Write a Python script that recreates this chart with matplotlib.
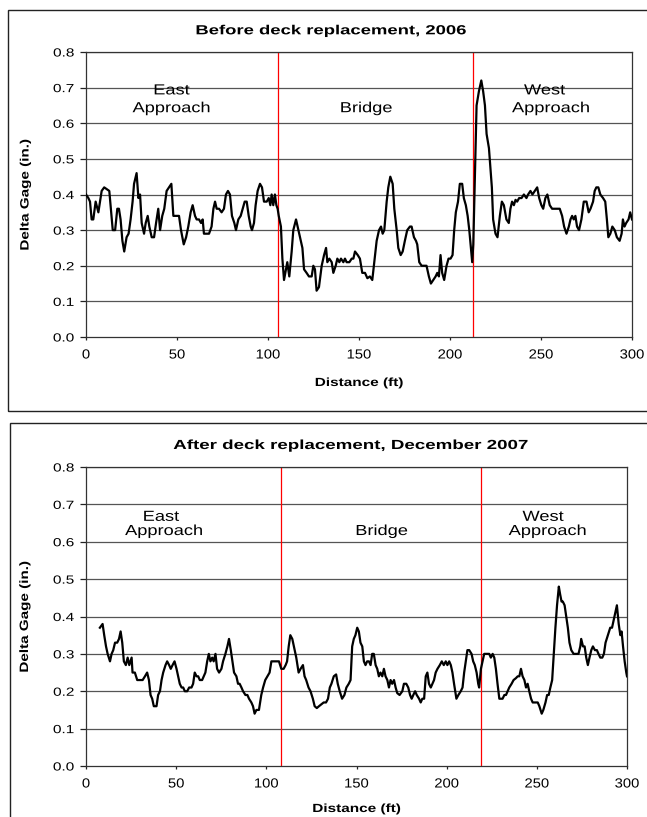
import matplotlib
matplotlib.use("Agg")
import matplotlib.pyplot as plt
from matplotlib.patches import Rectangle
from matplotlib.patheffects import AbstractPathEffect
from matplotlib.transforms import Affine2D

plt.rcParams['font.family'] = ['Liberation Sans', 'DejaVu Sans']

# ---------------- data: before (2006) ----------------
before_x = [0, 1.3, 2.2, 3.1, 4, 5.3, 6.8, 8.6, 10, 11.4, 12.8, 14.7, 16, 17.2, 18.1, 19, 20, 21,
            22.3, 23.4, 24.5, 25.6, 26.4, 27.8, 28.8, 29.7, 30.6, 31.9, 32.8, 33.9, 34.8, 36.1,
            37.4, 38.5, 39.7, 40.7, 41.9, 43, 44.3, 45.6, 46.9, 48, 49.8, 51.1, 52.2, 53.7, 55,
            56.2, 57.5, 58.6, 59.9, 60.8, 62.1, 63.2, 64.1, 64.8, 66.3, 67.6, 69, 70, 70.9, 71.8,
            73.1, 74.5, 75.8, 76.9, 78, 79.1, 80.2, 81.5, 82.4, 83.7, 85, 86.1, 87.2, 88.3, 89.4,
            90.5, 91.2, 92.3, 93.2, 94.3, 95.6, 96.7, 97.8, 99.3, 100.4, 101.3, 102, 102.9, 103.8,
            104.6, 105.3, 105.9, 107.1, 107.9, 108.8, 109.9, 110.6, 111.7, 113, 113.9, 115.4,
            116.7, 117.6, 118.9, 119.8, 121.2, 122.5, 124, 124.9, 125.8, 126.7, 128,
            129.5, 130.8, 131.9, 132.6, 133.7, 135, 135.9, 137.2, 138.1, 139.2, 140.1, 141.4,
            142.3, 143.2, 144.7, 146, 146.9, 147.8, 149.3, 150.5, 151.8, 153.3, 154.6, 156,
            157.3, 158.4, 159.7, 161, 162.1, 163, 163.9, 165.2, 166.1, 167.2, 168.5, 169.4,
            170.7, 171.6, 172.9, 174, 175.2, 176.5, 178, 178.9, 180.2, 181.3, 182, 183.1, 184.4,
            185.7, 187.1, 188.4, 189.5, 190.8, 192.1, 193, 193.9, 194.8, 195.7, 196.8, 198.1,
            199.2, 200.3, 201.4, 202.3, 203.2, 204.4, 205.4, 206.7, 207.6, 208.7, 209.7, 210.6,
            211.5, 212.2, 212.8, 213.7, 214.6, 215.9, 217.2, 218.2, 219.2, 220.1, 221.4, 222.3,
            223, 223.7, 225, 226.1, 227.4, 228.5, 229.6, 231, 232.3, 233.2, 234.1, 235.1, 236,
            236.9, 238, 239.3, 240.6, 242, 242.9, 244.2, 245.3, 246.6, 247.9, 249, 250.2, 251.2,
            252.4, 253.5, 254.8, 256.1, 257.6, 258.9, 260.3, 261.6, 262.7, 264, 265.3, 266.2,
            267.1, 268, 268.9, 269.8, 270.9, 272.2, 273.5, 275, 276.2, 277.2, 278.6, 279.5,
            280.4, 281.5, 282.6, 284.1, 285.3, 286.2, 287, 288.1, 289.2, 290.5, 291.7, 293.2,
            294.3, 295, 295.9, 296.8, 298.1, 299, 300]
before_y = [0.40, 0.39, 0.38, 0.33, 0.33, 0.38, 0.35, 0.41, 0.42, 0.415, 0.41, 0.30, 0.30, 0.36,
            0.36, 0.33, 0.27, 0.24, 0.28, 0.29, 0.33, 0.38, 0.43, 0.46, 0.39, 0.40, 0.32, 0.29,
            0.32, 0.34, 0.31, 0.28, 0.28, 0.32, 0.36, 0.30, 0.34, 0.36, 0.41, 0.42, 0.43, 0.34,
            0.34, 0.34, 0.30, 0.26, 0.28, 0.31, 0.35, 0.37, 0.34, 0.33, 0.33, 0.32, 0.33, 0.29,
            0.29, 0.29, 0.31, 0.36, 0.38, 0.36, 0.36, 0.35, 0.36, 0.40, 0.41, 0.40, 0.34, 0.32,
            0.30, 0.33, 0.34, 0.36, 0.38, 0.38, 0.34, 0.31, 0.30, 0.32, 0.37, 0.41, 0.43, 0.42,
            0.38, 0.38, 0.39, 0.37, 0.40, 0.37, 0.40, 0.37, 0.36, 0.34, 0.31, 0.22, 0.16, 0.19,
            0.21, 0.17, 0.24, 0.30, 0.33, 0.30, 0.28, 0.25, 0.19, 0.18, 0.17, 0.17, 0.20, 0.19,
            0.13, 0.14,
            0.20, 0.23, 0.25, 0.21, 0.22, 0.21, 0.18, 0.20, 0.22, 0.21, 0.22, 0.21, 0.22, 0.21,
            0.21, 0.22, 0.22, 0.24, 0.23, 0.22, 0.18, 0.18, 0.165, 0.17, 0.16, 0.21, 0.27, 0.30,
            0.31, 0.29, 0.30, 0.38, 0.42, 0.45, 0.43, 0.36, 0.30, 0.25, 0.23, 0.24, 0.27, 0.30,
            0.31, 0.31, 0.28, 0.27, 0.26, 0.21, 0.20, 0.20, 0.20, 0.17, 0.15, 0.16, 0.17, 0.18,
            0.17, 0.23, 0.18, 0.16, 0.20, 0.22, 0.22, 0.23, 0.30, 0.35, 0.38, 0.43, 0.43, 0.39,
            0.37, 0.34, 0.30, 0.25, 0.21, 0.26, 0.45, 0.65, 0.69, 0.72, 0.69, 0.65, 0.57, 0.53,
            0.47, 0.42, 0.33, 0.29, 0.28, 0.34, 0.38, 0.37, 0.33, 0.32, 0.36, 0.38, 0.37, 0.385,
            0.38, 0.39, 0.39, 0.40, 0.39, 0.40, 0.41, 0.40, 0.41, 0.42, 0.39, 0.37, 0.36, 0.39,
            0.40, 0.37, 0.36, 0.36, 0.36, 0.36, 0.34, 0.31, 0.29, 0.31, 0.33, 0.34, 0.33, 0.34,
            0.31, 0.30, 0.33, 0.38, 0.38, 0.35, 0.36, 0.38, 0.41, 0.42, 0.42, 0.40, 0.39, 0.38,
            0.33, 0.28, 0.29, 0.31, 0.30, 0.28, 0.27, 0.29, 0.33, 0.31, 0.32, 0.33, 0.35, 0.33]

# ---------------- data: after (Dec 2007) ----------------
after_x = [7.7, 9.2, 10.1, 11.1, 12, 13.3, 14.2, 15.1, 16.1, 17.3, 18.3, 19.2, 20.1, 21, 22.1,
           23.1, 24, 25.3, 25.8, 27.1, 28.4, 29.9, 31.4, 32.7, 33.9, 34.9, 35.8, 36.7, 37.6,
           39.1, 40, 41, 41.9, 42.8, 44.1, 45, 46.1, 47, 48, 49.1, 50.2, 51.1, 52, 53, 53.9,
           54.8, 56.1, 57.2, 58.5, 59.4, 60.3, 61.3, 62.2, 63.1, 64.4, 65.3, 66.2, 67.2, 68.1,
           69, 70, 70.8, 71.8, 72.7, 73.8, 75.1, 76, 77.3, 78.4, 79.3, 80.3, 81.2, 82.1, 83.4,
           84.3, 85.2, 86.2, 87.1, 88.4, 89.5, 90.4, 91.7, 92.6, 93.5, 94.5, 95.9, 97.2, 98.2,
           99.4, 100.6, 101.8, 102.8, 104.1, 105.5, 107, 108.3, 109.6, 110.7, 111.5, 112.4,
           113.3, 114.4, 115.3, 116.6, 117.9, 119, 120.3, 121.2, 122.1, 123.4, 124.5, 125.8,
           126.8, 128,
           129.2, 130.5, 131.8, 133.1, 134.2, 135.2, 136.1, 137.4, 138.7, 139.6, 140.7, 142,
           143.3, 144.4, 145.7, 146.7, 147.6, 148.5, 149.4, 150.4, 151.3, 152.2, 153.2, 154.1,
           155, 155.9, 156.9, 157.8, 158.7, 159.6, 160.6, 161.5, 162.4, 163.3, 164.3, 165.2,
           166.1, 167.1, 168, 168.9, 169.8, 170.8, 171.7, 172.6, 173.9, 175.4, 176.3, 177.6,
           178.7, 179.7, 180.6, 181.5, 182.5, 183.4, 184.7, 185.6, 186.5, 187.5, 188.4, 189.3,
           190.2, 191.2, 192.1, 193, 193.9, 194.9, 196.2, 197.3, 198.4, 199.5, 200.4, 201.4,
           202.3, 203.2, 204.1, 205.4, 206.5, 207.8, 208.8, 209.7, 210.6, 211.5, 212.5, 213.8,
           214.7, 215.6, 216.6, 217.5, 218, 219, 219.9, 220.8, 222.1, 223.6, 224.5, 225.5,
           226.4, 227.3, 228.2, 229.2, 231, 232, 232.9, 233.8, 234.7, 236, 237.1, 238.4, 239.4,
           240.3, 241.2, 242.1, 243.1, 244, 244.9, 245.8, 246.8, 247.7, 248.6, 249.6, 250.5,
           251.4, 252.7, 253.6, 254.8, 255.7, 256.6, 257.5, 258.5, 259.4, 260.3, 261.2, 262.2,
           262.9, 263.7, 264.4, 265.4, 266.3, 267.2, 268.1, 269.1, 270.4, 271.8, 273.1, 274.1,
           274.6, 275.6, 276.5, 277.4, 278.3, 279.2, 280.2, 281.1, 282.2, 283.3, 284.2, 285.2,
           286.3, 287.2, 288.1, 289.4, 290.7, 291.7, 292.6, 293.5, 294.4, 295.4, 296.3, 297,
           297.8, 298.7, 299.6, 300]
after_y = [0.37, 0.38, 0.35, 0.32, 0.30, 0.28, 0.30, 0.31, 0.33, 0.33, 0.34, 0.36, 0.33, 0.28,
           0.27, 0.29, 0.27, 0.29, 0.25, 0.25, 0.23, 0.23, 0.23, 0.24, 0.25, 0.23, 0.19, 0.18,
           0.16, 0.16, 0.19, 0.20, 0.23, 0.25, 0.27, 0.28, 0.27, 0.26, 0.27, 0.28, 0.26, 0.24,
           0.22, 0.21, 0.21, 0.20, 0.20, 0.21, 0.21, 0.22, 0.25, 0.24, 0.24, 0.23, 0.23, 0.24,
           0.25, 0.28, 0.30, 0.28, 0.29, 0.28, 0.30, 0.26, 0.25, 0.26, 0.28, 0.30, 0.32, 0.34,
           0.31, 0.28, 0.25, 0.24, 0.22, 0.22, 0.21, 0.20, 0.19, 0.19, 0.18, 0.17, 0.16, 0.14,
           0.15, 0.15, 0.19, 0.21, 0.23, 0.24, 0.25, 0.28, 0.28, 0.28, 0.28, 0.26, 0.26, 0.27,
           0.28, 0.32, 0.35, 0.34, 0.32, 0.29, 0.25, 0.26, 0.27, 0.24, 0.23, 0.21, 0.20, 0.18,
           0.16, 0.155,
           0.16, 0.165, 0.17, 0.17, 0.18, 0.21, 0.22, 0.24, 0.245, 0.22, 0.20, 0.18, 0.19, 0.21,
           0.22, 0.23, 0.32, 0.34, 0.35, 0.37, 0.36, 0.33, 0.32, 0.28, 0.27, 0.28, 0.28, 0.27,
           0.30, 0.30, 0.27, 0.26, 0.24, 0.25, 0.24, 0.26, 0.24, 0.23, 0.21, 0.23, 0.22, 0.23,
           0.21, 0.195, 0.19, 0.20, 0.22, 0.22, 0.21, 0.19, 0.18, 0.19, 0.20, 0.19, 0.18, 0.17,
           0.18, 0.18, 0.24, 0.25, 0.22, 0.21, 0.22, 0.23, 0.25, 0.26, 0.27, 0.28, 0.27, 0.28,
           0.27, 0.28, 0.27, 0.25, 0.22, 0.18, 0.19, 0.20, 0.21, 0.25, 0.28, 0.31, 0.31, 0.30,
           0.28, 0.27, 0.25, 0.22, 0.21, 0.26, 0.28, 0.30, 0.30, 0.30, 0.29, 0.30, 0.29, 0.26,
           0.22, 0.18, 0.18, 0.19, 0.19, 0.20, 0.21, 0.22, 0.23, 0.235, 0.24, 0.24, 0.26, 0.24,
           0.23, 0.21, 0.22, 0.20, 0.18, 0.17, 0.17, 0.17, 0.17, 0.16, 0.14, 0.15, 0.17, 0.19,
           0.19, 0.21, 0.23, 0.30, 0.37, 0.43, 0.48, 0.46, 0.44, 0.44, 0.43, 0.40, 0.37, 0.33,
           0.31, 0.30, 0.30, 0.30, 0.32, 0.34, 0.32, 0.32, 0.29, 0.27, 0.29, 0.31, 0.32, 0.31,
           0.31, 0.30, 0.29, 0.29, 0.30, 0.33, 0.35, 0.37, 0.37, 0.39, 0.41, 0.43, 0.38, 0.35,
           0.36, 0.32, 0.28, 0.25, 0.24]

titles = ["Before deck replacement, 2006", "After deck replacement, December 2007"]
before_dividers = [105.5, 212.7]
after_dividers = [108.1, 219.3]
x_ticks = [0, 50, 100, 150, 200, 250, 300]
y_ticks = [0.0, 0.1, 0.2, 0.3, 0.4, 0.5, 0.6, 0.7, 0.8]


class Stretch(AbstractPathEffect):
    """Widen text glyphs along their baseline (the reference uses a wide face)."""
    def __init__(self, sx=1.0, sy=1.0, anchor='center'):
        super().__init__()
        self.sx, self.sy, self.anchor = sx, sy, anchor

    def draw_path(self, renderer, gc, tpath, affine, rgbFace=None):
        v = affine.transform(tpath.vertices)
        if len(v) == 0:
            return
        x0, x1 = v[:, 0].min(), v[:, 0].max()
        y0, y1 = v[:, 1].min(), v[:, 1].max()
        cx = {'center': (x0 + x1) / 2, 'right': x1, 'left': x0}[self.anchor]
        cy = (y0 + y1) / 2
        t = affine + Affine2D().translate(-cx, -cy).scale(self.sx, self.sy).translate(cx, cy)
        renderer.draw_path(gc, tpath, t, rgbFace)


W, H = 647, 817
fig = plt.figure(figsize=(W / 100, H / 100), dpi=100)


def px_rect(x0, y0, x1, y1):
    return Rectangle((x0 / W, 1 - y1 / H), (x1 - x0) / W, (y1 - y0) / H,
                     transform=fig.transFigure, fill=False, edgecolor='#222222', lw=1.0)


fig.patches.append(px_rect(8, 10, 660, 411))
fig.patches.append(px_rect(10, 423, 660, 830))


def make_axes(rect_px):
    x0, y0, x1, y1 = rect_px
    return fig.add_axes([x0 / W, 1 - y1 / H, (x1 - x0) / W, (y1 - y0) / H])


ax1 = make_axes((86, 52, 632, 337))
ax2 = make_axes((86, 467, 627, 766))


def style(ax, xs, ys, dividers, labels, xlab_y, ylab_x):
    ax.set_xlim(0, 300)
    ax.set_ylim(0, 0.8)
    ax.set_xticks(x_ticks)
    ax.set_yticks(y_ticks)
    ax.set_yticklabels([f"{v:.1f}" for v in y_ticks])
    ax.tick_params(axis='x', labelsize=9.5, direction='out', length=2.5, width=0.9,
                   colors='#222222', labelcolor='black', pad=6.5)
    ax.tick_params(axis='y', labelsize=8.5, direction='out', length=4, width=0.9,
                   colors='#222222', labelcolor='black', pad=4.5)
    for v in y_ticks[1:]:
        ax.axhline(v, color='#555555', lw=0.9, zorder=1)
    for s in ax.spines.values():
        s.set_color('#333333')
        s.set_linewidth(0.9)
    for d in dividers:
        ax.axvline(d, color='#ff0000', lw=0.9, zorder=2)
    ax.plot(xs, ys, color='black', lw=1.6, zorder=3)

    ax.set_xlabel("Distance (ft)", fontsize=8.5, fontweight='bold')
    ax.xaxis.set_label_coords(0.5, xlab_y)
    ax.xaxis.label.set_va('center')
    ax.xaxis.label.set_path_effects([Stretch(sx=1.3)])

    ax.set_ylabel("Delta Gage (in.)", fontsize=8.7, fontweight='bold')
    ax.yaxis.set_label_coords(ylab_x, 0.5)
    ax.yaxis.label.set_va('center')
    ax.yaxis.label.set_path_effects([Stretch(sy=1.26)])

    for lab in ax.get_xticklabels():
        lab.set_path_effects([Stretch(sx=1.12)])
    for lab in ax.get_yticklabels():
        lab.set_path_effects([Stretch(sx=1.3, anchor='right')])

    for (tx, ty, txt) in labels:
        ax.text(tx, ty, txt, ha='center', va='baseline', fontsize=10.5, zorder=4,
                path_effects=[Stretch(sx=1.25)])


style(ax1, before_x, before_y, before_dividers,
      [(47, 0.681, "East"), (47, 0.631, "Approach"),
       (154, 0.631, "Bridge"),
       (252, 0.681, "West"), (255.5, 0.631, "Approach")],
      xlab_y=-0.1614, ylab_x=-0.1108)

style(ax2, after_x, after_y, after_dividers,
      [(41.6, 0.656, "East"), (43.3, 0.618, "Approach"),
       (164, 0.618, "Bridge"),
       (253.5, 0.656, "West"), (256, 0.618, "Approach")],
      xlab_y=-0.1438, ylab_x=-0.1128)

fig.text(331 / W, 1 - 34.3 / H, titles[0], ha='center', va='baseline',
         fontsize=9.5, fontweight='bold', path_effects=[Stretch(sx=1.40)])
fig.text(351 / W, 1 - 449 / H, titles[1], ha='center', va='baseline',
         fontsize=9.5, fontweight='bold', path_effects=[Stretch(sx=1.42)])

fig.savefig("out.png", dpi=100)
